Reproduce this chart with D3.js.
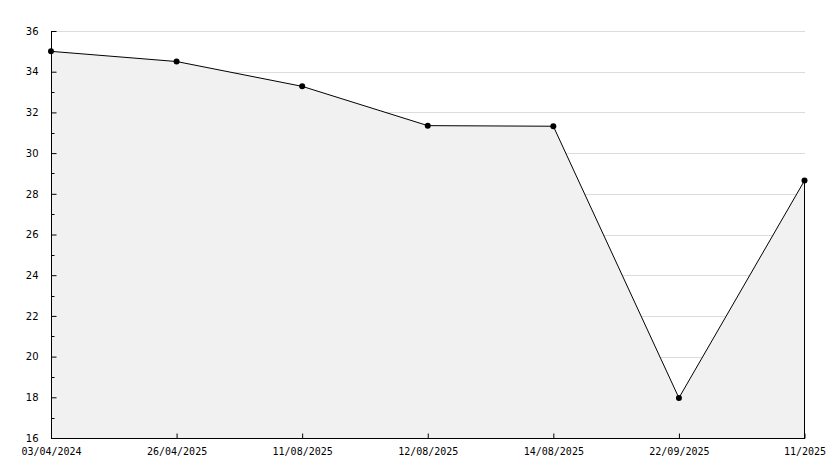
<!DOCTYPE html>
<html><head><meta charset="utf-8">
<script src="https://cdn.jsdelivr.net/npm/d3@7"></script>
<style>body{margin:0;background:#fff}svg{display:block}</style>
</head><body>
<script>
const categories = ["03/04/2024","26/04/2025","11/08/2025","12/08/2025","14/08/2025","22/09/2025","11/2025"];
const values = [35.0, 34.5, 33.28, 31.35, 31.32, 17.97, 28.65];
const yTicks = [16,18,20,22,24,26,28,30,32,34,36];

const W = 834, H = 468;
const mLeft = 51, mRight = 804.5, mTop = 31, mBottom = 438;
const svg = d3.select("body").append("svg").attr("width", W).attr("height", H);

const x = d3.scalePoint().domain(categories).range([mLeft, mRight]);
const y = d3.scaleLinear().domain([16, 36]).range([mBottom, mTop]);

// gridlines
svg.append("g").selectAll("line").data(yTicks.filter(d => d > 16)).join("line")
  .attr("x1", mLeft).attr("x2", mRight + 0.5)
  .attr("y1", d => Math.round(y(d)) + 0.5).attr("y2", d => Math.round(y(d)) + 0.5)
  .attr("stroke", "#dcdcdc").attr("stroke-width", 1);

const data = categories.map((c, i) => ({c, v: values[i]}));

// area
svg.append("path").datum(data)
  .attr("d", d3.area().x(d => x(d.c)).y0(mBottom).y1(d => y(d.v)))
  .attr("fill", "#f1f1f1");

// line
svg.append("path").datum(data)
  .attr("d", d3.line().x(d => x(d.c)).y(d => y(d.v)))
  .attr("fill", "none").attr("stroke", "#000").attr("stroke-width", 1);

// right edge of area
const last = data[data.length - 1];
svg.append("line").attr("x1", x(last.c)).attr("x2", x(last.c))
  .attr("y1", y(last.v)).attr("y2", mBottom).attr("stroke", "#000");

// markers
svg.append("g").selectAll("circle").data(data).join("circle")
  .attr("cx", d => x(d.c)).attr("cy", d => y(d.v)).attr("r", 3).attr("fill", "#000");

// y axis
const yAxis = d3.axisLeft(y).tickValues(yTicks).tickSize(-5).tickFormat(d3.format("d")).tickPadding(13);
const gy = svg.append("g").attr("transform", `translate(${mLeft + 0.5},0)`).call(yAxis);
gy.select(".domain").attr("stroke", "#000").attr("d", `M0,${mTop}V${mBottom + 0.5}`);
gy.selectAll("text").attr("font-family", "DejaVu Sans").attr("font-size", 10).attr("fill", "#000");
// minor ticks
const minor = d3.range(17, 36, 2);
gy.append("g").selectAll("line").data(minor).join("line")
  .attr("x1", 0).attr("x2", 3)
  .attr("y1", d => Math.round(y(d)) + 0.5).attr("y2", d => Math.round(y(d)) + 0.5)
  .attr("stroke", "#000");

// x axis
const xAxis = d3.axisBottom(x).tickSize(-5).tickPadding(9);
const gx = svg.append("g").attr("transform", `translate(0,${mBottom + 0.5})`).call(xAxis);
gx.select(".domain").attr("stroke", "#000").attr("d", `M${mLeft},0H${mRight + 0.5}`);
gx.selectAll("text").attr("font-family", "DejaVu Sans Mono").attr("font-size", 10).attr("fill", "#000");
</script>
</body></html>
